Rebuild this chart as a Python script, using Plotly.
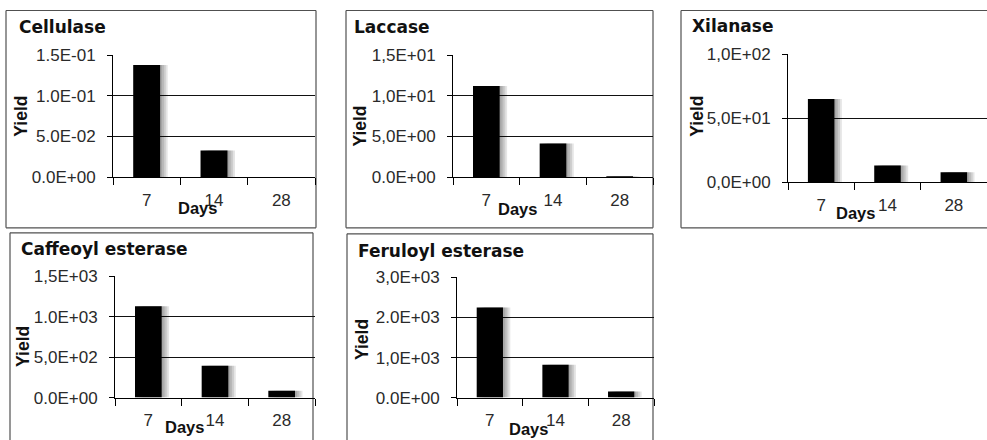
import plotly.graph_objects as go

# ---------------- data ----------------
days = ["7", "14", "28"]

titles = ["Cellulase", "Laccase", "Xilanase", "Caffeoyl esterase", "Feruloyl esterase"]

cellulase = [0.138, 0.033, 0.0]
laccase = [11.2, 4.15, 0.1]
xilanase = [65.0, 13.0, 7.8]
caffeoyl = [1130.0, 395.0, 86.0]
feruloyl = [2250.0, 820.0, 150.0]

cellulase_ticks = [0.0, 0.05, 0.10, 0.15]
laccase_ticks = [0.0, 5.0, 10.0, 15.0]
xilanase_ticks = [0.0, 50.0, 100.0]
caffeoyl_ticks = [0.0, 500.0, 1000.0, 1500.0]
feruloyl_ticks = [0.0, 1000.0, 2000.0, 3000.0]

cellulase_labels = ["0.0E+00", "5.0E-02", "1.0E-01", "1.5E-01"]
laccase_labels = ["0.0E+00", "5,0E+00", "1,0E+01", "1,5E+01"]
xilanase_labels = ["0,0E+00", "5,0E+01", "1,0E+02"]
caffeoyl_labels = ["0.0E+00", "5,0E+02", "1.0E+03", "1,5E+03"]
feruloyl_labels = ["0.0E+00", "1,0E+03", "2.0E+03", "3,0E+03"]

series = [cellulase, laccase, xilanase, caffeoyl, feruloyl]
ticks = [cellulase_ticks, laccase_ticks, xilanase_ticks, caffeoyl_ticks, feruloyl_ticks]
labels = [cellulase_labels, laccase_labels, xilanase_labels, caffeoyl_labels, feruloyl_labels]

# ---------------- layout geometry (target picture pixels) ----------------
W, H = 987, 440
# observed vertical mapping of the renderer: picture_y = VS * page_y + VO
VS, VO = 0.964, 6.5
# plot areas: x0, x1, y0(top), y1(bottom)
plots = [
    (113, 315, 53, 176),
    (453, 653, 53, 176),
    (788, 987, 52, 181),
    (115, 315, 276, 398),
    (457, 654, 277, 398),
]
# panel frames: x0, x1, y0, y1 and which sides are drawn
boxes = [
    (6, 316, 8, 227, "LTRB"),
    (346, 653, 8, 227, "LTRB"),
    (681, 987, 8, 227, "LTB"),
    (10, 313, 232, 441, "LTR"),
    (347, 653, 233, 441, "LTR"),
]
title_pos = [(17, 25), (352, 25), (690, 24), (19, 248), (356, 250)]
yield_pos = [(21, 115), (360, 125), (697, 115), (23, 347), (362, 340)]
days_pos = [(197, 207), (517, 208), (855, 212), (184, 428), (528, 430)]


def px(x):
    return x / W


def py(y):
    return 1 - ((y - VO) / VS) / H


fig = go.Figure()
layout = dict(
    width=W, height=H, autosize=False,
    margin=dict(l=0, r=0, t=0, b=0),
    paper_bgcolor="white", plot_bgcolor="rgba(0,0,0,0)",
    showlegend=False, barmode="overlay",
    shapes=[], annotations=[],
)

tickfont = dict(family="Liberation Sans, Arial, sans-serif", size=17, color="#2a2a2a")
framecol = "#505050"

for i in range(5):
    sfx = "" if i == 0 else str(i + 1)
    xa, ya = "x" + sfx, "y" + sfx
    vals = series[i]
    for k in range(1, 5):
        fig.add_trace(go.Bar(
            x=days, y=vals, xaxis=xa, yaxis=ya,
            width=0.4, offset=-0.2 + 0.028 * k,
            marker=dict(color="rgba(0,0,0,0.10)", line=dict(width=0)),
            hoverinfo="skip",
        ))
    fig.add_trace(go.Bar(
        x=days, y=vals, xaxis=xa, yaxis=ya,
        width=0.4, offset=-0.2,
        marker=dict(color="black", line=dict(width=0)),
        name=titles[i],
    ))
    x0, x1, y0, y1 = plots[i]
    layout["xaxis" + sfx] = dict(
        domain=[px(x0), min(px(x1), 1.0)], anchor=ya,
        type="category", range=[-0.5, 2.5],
        showline=True, linecolor="black", linewidth=1,
        ticks="outside", ticklen=7, tickcolor="black", tickwidth=1,
        tickson="boundaries", showgrid=False, zeroline=False,
        tickfont=tickfont, ticklabelstandoff=7, fixedrange=True,
    )
    layout["yaxis" + sfx] = dict(
        domain=[py(y1), py(y0)], anchor=xa,
        range=[0, ticks[i][-1]],
        tickmode="array", tickvals=ticks[i], ticktext=labels[i],
        showline=True, linecolor="black", linewidth=1,
        ticks="outside", ticklen=5, tickcolor="black", tickwidth=1,
        showgrid=True, gridcolor="#111111", gridwidth=1, zeroline=False,
        tickfont=tickfont, ticklabelstandoff=8, fixedrange=True,
    )
    bx0, bx1, by0, by1, sides = boxes[i]
    segs = {
        "L": (bx0, by1, bx0, by0),
        "T": (bx0, by0, bx1, by0),
        "R": (bx1, by0, bx1, by1),
        "B": (bx0, by1, bx1, by1),
    }
    for s in sides:
        a, b, c, d = segs[s]
        layout["shapes"].append(dict(
            type="line", xref="paper", yref="paper",
            x0=px(a), y0=py(b), x1=px(c), y1=py(d),
            line=dict(color=framecol, width=1.2), layer="below",
        ))
    tx, ty = title_pos[i]
    layout["annotations"].append(dict(
        text="<b>" + titles[i] + "</b>", xref="paper", yref="paper",
        x=px(tx), y=py(ty), xanchor="left", yanchor="middle", showarrow=False,
        font=dict(family="DejaVu Sans, Verdana, sans-serif", size=17, color="#111111"),
    ))
    yx, yy = yield_pos[i]
    layout["annotations"].append(dict(
        text="<b>Yield</b>", xref="paper", yref="paper", textangle=-90,
        x=px(yx), y=py(yy), xanchor="center", yanchor="middle", showarrow=False,
        font=dict(family="Liberation Sans, Arial, sans-serif", size=17.5, color="#111111"),
    ))
    dx, dy = days_pos[i]
    layout["annotations"].append(dict(
        text="<b>Days</b>", xref="paper", yref="paper",
        x=px(dx), y=py(dy), xanchor="center", yanchor="middle", showarrow=False,
        font=dict(family="Liberation Sans, Arial, sans-serif", size=16.5, color="#111111"),
    ))

fig.update_layout(**layout)
fig.write_html(
    "out.html",
    config={"responsive": False, "displayModeBar": False},
    post_script="document.body.style.margin='0';document.body.style.overflow='hidden';",
)
